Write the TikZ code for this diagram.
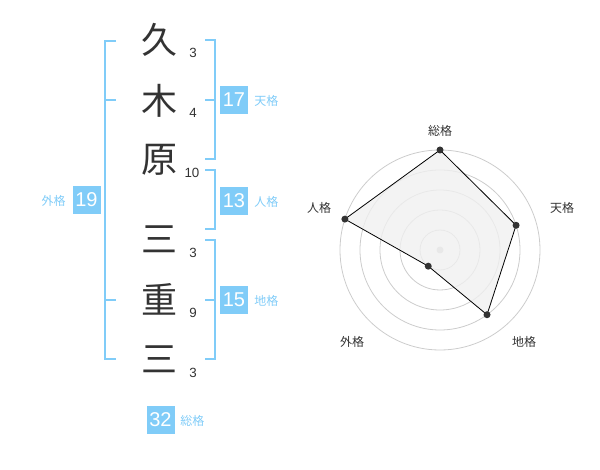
\documentclass[tikz,border=0pt]{standalone}
\usepackage{fontspec}
\setmainfont{Liberation Sans}
\newfontfamily\jp{Noto Sans CJK JP}
\definecolor{kakublue}{RGB}{128,204,248}
\definecolor{kanjigray}{RGB}{51,51,51}
\definecolor{ringgray}{RGB}{204,204,204}
\definecolor{radarfill}{RGB}{240,240,240}

\tikzset{
  kanji/.style={font=\jp\fontsize{27}{27}\selectfont, text=kanjigray, inner sep=0pt},
  strokes/.style={font=\fontsize{10}{10}\selectfont, text=kanjigray, inner sep=0pt},
  kakubox/.style={fill=kakublue, text=white, minimum size=21pt, inner sep=0pt, font=\fontsize{15}{15}\selectfont},
  kakuname/.style={font=\jp\fontsize{9}{9}\selectfont, text=kakublue, inner sep=0pt},
  axisname/.style={font=\jp\fontsize{9}{9}\selectfont, text=kanjigray, inner sep=0pt},
  bracket/.style={draw=kakublue, line width=1.5pt},
}

\begin{document}
\begin{tikzpicture}[x=0.75pt, y=-0.75pt]
\useasboundingbox (0,0) rectangle (600,470);

% name and stroke counts
\begin{scope}
  \node[kanji] (k1) at (159, 40) {久};
  \node[kanji] (k2) at (159,101) {木};
  \node[kanji] (k3) at (159,160) {原};
  \node[kanji] (k4) at (159,239) {三};
  \node[kanji] (k5) at (159,299) {重};
  \node[kanji] (k6) at (159,359) {三};
  \node[strokes] (s1) at (193, 53) {3};
  \node[strokes] (s2) at (193,113) {4};
  \node[strokes] (s3) at (192,173) {10};
  \node[strokes] (s4) at (193,253) {3};
  \node[strokes] (s5) at (193,313) {9};
  \node[strokes] (s6) at (193,373) {3};
\end{scope}

% brackets
\begin{scope}[bracket]
  \draw (116,41) -- (105,41) -- (105,359) -- (116,359);
  \draw (105,100) -- (116,100);
  \draw (105,300) -- (116,300);
  \draw (205,40) -- (215,40) -- (215,159) -- (205,159);
  \draw (215,100) -- (205,100);
  \draw (205,170) -- (215,170) -- (215,229) -- (205,229);
  \draw (205,240) -- (215,240) -- (215,359) -- (205,359);
  \draw (215,300) -- (205,300);
\end{scope}

% scores
\begin{scope}
  \node[kakubox] (gaikaku) at (86.5,200) {19};
  \node[kakuname, anchor=east] (gailbl) at (66,201) {外格};
  \node[kakubox] (tenkaku) at (234,100) {17};
  \node[kakuname, anchor=west] (tenlbl) at (254,101) {天格};
  \node[kakubox] (jinkaku) at (234,201) {13};
  \node[kakuname, anchor=west] (jinlbl) at (254,202) {人格};
  \node[kakubox] (chikaku) at (234,300) {15};
  \node[kakuname, anchor=west] (chilbl) at (254,301) {地格};
  \node[kakubox] (soukaku) at (160.5,420) {32};
  \node[kakuname, anchor=west] (soulbl) at (180,421) {総格};
\end{scope}

% radar chart
\begin{scope}[shift={(440,250)}, y=0.75pt]
  \foreach \r in {20,40,...,100}
    \draw[ringgray, line width=0.6pt] (0,0) circle[radius=\r];
  \fill[ringgray] (0,0) circle[radius=3.5];
  \foreach \name/\ang/\val in {sou/90/5, ten/18/4, chi/-54/4, gai/-126/1, jin/162/5}
    \coordinate (\name) at (\ang:\val*20);
  \filldraw[fill=radarfill, fill opacity=0.8, draw=black, line width=0.6pt]
    (sou) -- (ten) -- (chi) -- (gai) -- (jin) -- cycle;
  \foreach \name in {sou,ten,chi,gai,jin}
    \fill[kanjigray] (\name) circle[radius=3.5];
\end{scope}

\node[axisname] (souaxis) at (440,131) {総格};
\node[axisname] (tenaxis) at (562,208) {天格};
\node[axisname] (chiaxis) at (524,342) {地格};
\node[axisname] (gaiaxis) at (352,342) {外格};
\node[axisname] (jinaxis) at (319,208) {人格};

\end{tikzpicture}
\end{document}
